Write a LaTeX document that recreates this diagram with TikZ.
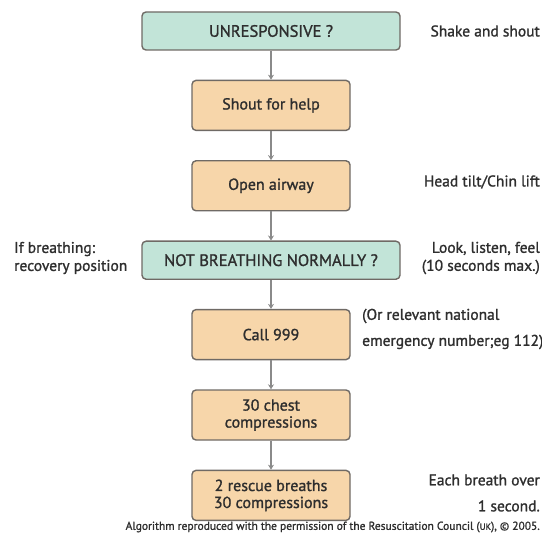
\documentclass[tikz,border=0pt]{standalone}
\usepackage{fontspec}
\setmainfont{PT Sans}
\newfontfamily\inkfont{PT Sans}[FakeBold=1.3]
\usepackage{tikz}
\usetikzlibrary{positioning,arrows.meta}

\definecolor{askfill}{HTML}{C2E4D8}
\definecolor{stepfill}{HTML}{F7D6AA}
\definecolor{boxline}{HTML}{6F6A65}
\definecolor{flowline}{HTML}{8A8A8A}
\definecolor{inktext}{HTML}{2E2E2E}

\begin{document}
\begin{tikzpicture}[x=1pt, y=-1pt,
    askbox/.style={draw=boxline, line width=1.4pt, rounded corners=4pt, fill=askfill,
        minimum width=258pt, minimum height=38pt, inner sep=0pt,
        text=inktext, font=\inkfont\fontsize{16.5}{17}\selectfont},
    stepbox/.style={draw=boxline, line width=1.4pt, rounded corners=4pt, fill=stepfill,
        minimum width=158pt, minimum height=50pt, inner sep=0pt, align=center,
        text=inktext, font=\inkfont\fontsize{16}{17}\selectfont},
    sidenote/.style={inner sep=0pt, text=inktext, font=\inkfont\fontsize{15.5}{18}\selectfont},
    flow/.style={draw=flowline, line width=1.8pt, -{Stealth[length=5pt, width=6pt]}},
    node distance=29pt]
    \useasboundingbox (0,0) rectangle (542,535);

    \node[askbox] (unresp) at (271,31) {UNRESPONSIVE ?};
    \node[stepbox, below=of unresp] (help) {Shout for help};
    \node[stepbox, below=of help] (airway) {Open airway};
    \node[askbox, below=of airway] (breath) {NOT BREATHING NORMALLY ?};
    \node[stepbox, below=of breath] (call) {Call 999};
    \node[stepbox, below=of call] (chest) {30 chest\\compressions};
    \node[stepbox, below=of chest] (rescue) {2 rescue breaths\\30 compressions};

    \draw[flow] (unresp) -- (help);
    \draw[flow] (help) -- (airway);
    \draw[flow] (airway) -- (breath);
    \draw[flow] (breath) -- (call);
    \draw[flow] (call) -- (chest);
    \draw[flow] (chest) -- (rescue);

    \node[sidenote, anchor=east] (shake) at (540,31) {Shake and shout};
    \node[sidenote, anchor=east] (tilt) at (540,182) {Head tilt/Chin lift};
    \node[sidenote, anchor=west, align=left] (recovery) at (14,258) {If breathing:\\recovery position};
    \node[sidenote, anchor=east, align=right] (look) at (540,258) {Look, listen, feel\\(10 seconds max.)};
    \node[sidenote, anchor=west, align=left] (national) at (362,329) {(Or relevant national\\[8pt]emergency number;eg 112)};
    \node[sidenote, anchor=east, align=right] (each) at (540,493) {Each breath over\\[8pt]1 second.};
    \node[sidenote, anchor=east, font=\inkfont\fontsize{11.5}{12}\selectfont] (credit) at (540,527)
        {Algorithm reproduced with the permission of the Resuscitation Council ({\fontsize{9}{10}\selectfont UK}), © 2005.};
\end{tikzpicture}
\end{document}
